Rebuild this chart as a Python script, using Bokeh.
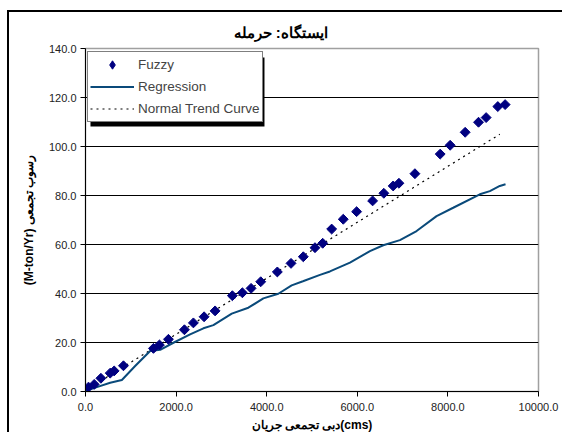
from bokeh.plotting import figure
from bokeh.models import (ColumnDataSource, Legend, LegendItem, Title, FixedTicker,
                          PrintfTickFormatter, BoxAnnotation, Range1d)
from bokeh.embed import file_html
from bokeh.resources import INLINE

# ---- data ----
fuzzy_x = [66, 192, 340, 545, 633, 838, 1500, 1632, 1831, 2184, 2382, 2618, 2861,
           3242, 3463, 3655, 3868, 4235, 4537, 4808, 5066, 5236, 5434, 5690, 5985,
           6338, 6586, 6792, 6919, 7272, 7830, 8050, 8381, 8676, 8844, 9102, 9263]
fuzzy_y = [1.8, 2.9, 5.4, 7.5, 8.4, 10.5, 17.6, 19.0, 21.3, 25.2, 28.0, 30.5, 32.9,
           39.1, 40.3, 42.1, 44.8, 48.8, 52.3, 55.0, 58.7, 60.5, 66.3, 70.3, 73.4,
           77.8, 80.9, 83.9, 85.0, 88.9, 96.9, 100.5, 105.8, 109.9, 111.8, 116.3, 117.1]

reg_x = [0, 250, 545, 803, 1096, 1427, 1648, 1941, 2309, 2603, 2823, 3229, 3595,
         3926, 4257, 4551, 4800, 5176, 5396, 5838, 6279, 6573, 6941, 7309, 7750,
         8117, 8705, 8926, 9146, 9272]
reg_y = [0.2, 1.8, 3.6, 4.7, 10.4, 16.5, 17.0, 19.9, 23.3, 25.8, 27.1, 31.8, 34.2,
         38.0, 39.9, 43.3, 45.0, 47.6, 49.0, 52.6, 57.3, 59.7, 61.8, 65.5, 71.6,
         75.0, 80.5, 81.8, 83.9, 84.6]

trend_x = [0, 9146]
trend_y = [0.5, 105.0]

x_ticks = [0, 2000, 4000, 6000, 8000, 10000]
y_ticks = [0, 20, 40, 60, 80, 100, 120, 140]

title_text = "ایستگاه: حرمله"
x_label = "دبی تجمعی جریان(cms)"
y_label = "(M-ton/Yr) رسوب تجمعی"
series_names = ["Fuzzy", "Regression", "Normal Trend Curve"]

FONT = "Liberation Sans"

p = figure(width=555, height=422, output_backend="svg", toolbar_location=None,
           x_range=Range1d(0, 10000), y_range=Range1d(0, 140),
           min_border_left=76, min_border_right=26, min_border_top=36,
           min_border_bottom=43)
# outer chart border (left and top edges visible in the reference)
p.styles = {"margin-left": "7px", "margin-top": "10px",
            "border-left": "2px solid black", "border-top": "2px solid black"}

p.title = Title(text=title_text, align="left", offset=148, standoff=12,
                vertical_align="top",
                text_font=FONT, text_font_size="15px", text_font_style="bold",
                text_color="black")

p.outline_line_color = "#A0A0A0"
p.outline_line_width = 1.5
p.background_fill_color = "white"
p.border_fill_color = "white"

p.xgrid.visible = False
p.ygrid.ticker = FixedTicker(ticks=y_ticks)
p.ygrid.grid_line_color = "black"
p.ygrid.grid_line_width = 1

for ax in (p.xaxis[0], p.yaxis[0]):
    ax.axis_line_color = "black"
    ax.axis_line_width = 1
    ax.major_tick_line_color = "black"
    ax.major_tick_in = 0
    ax.major_tick_out = 5
    ax.minor_tick_line_color = None
    ax.major_label_text_font = FONT
    ax.major_label_text_font_size = "11px"
    ax.major_label_text_color = "#222222"
    ax.axis_label_text_font = FONT
    ax.axis_label_text_font_size = "12px"
    ax.axis_label_text_font_style = "bold"
    ax.axis_label_text_color = "black"
    ax.formatter = PrintfTickFormatter(format="%.1f")

p.xaxis[0].ticker = FixedTicker(ticks=x_ticks)
p.yaxis[0].ticker = FixedTicker(ticks=y_ticks)
p.xaxis[0].axis_label = x_label
p.yaxis[0].axis_label = y_label
p.xaxis[0].major_label_standoff = 6
p.yaxis[0].major_label_standoff = 4
p.xaxis[0].axis_label_standoff = 4
p.yaxis[0].axis_label_standoff = 10

src_f = ColumnDataSource(dict(x=fuzzy_x, y=fuzzy_y))
src_r = ColumnDataSource(dict(x=reg_x, y=reg_y))
src_t = ColumnDataSource(dict(x=trend_x, y=trend_y))

r_trend = p.line("x", "y", source=src_t, line_color="black", line_width=1.2,
                 line_dash="2 4")
r_reg = p.line("x", "y", source=src_r, line_color="#0A4A7A", line_width=2)
r_fuzzy = p.scatter("x", "y", source=src_f, marker="square", size=7,
                    angle=45, angle_units="deg",
                    fill_color="#000080", line_color="#000080")
# legend swatch for the Fuzzy series (the legend ignores marker rotation)
r_fuzzy_key = p.scatter("x", "y", source=src_f, marker="diamond", size=10,
                        fill_color="#000080", line_color="#000080", visible=False)

# legend shadow
shadow = BoxAnnotation(left=110, right=3951, top=136.3, bottom=108.2,
                       fill_color="black", fill_alpha=1.0, line_color=None)
p.add_layout(shadow)

legend = Legend(items=[LegendItem(label=series_names[0], renderers=[r_fuzzy_key]),
                       LegendItem(label=series_names[1], renderers=[r_reg]),
                       LegendItem(label=series_names[2], renderers=[r_trend])],
                location=(2, 269), border_line_color="black", border_line_width=1,
                background_fill_color="white", background_fill_alpha=1.0,
                inactive_fill_alpha=0.0,
                label_text_font=FONT, label_text_font_size="13.5px",
                label_height=21, glyph_height=21, glyph_width=44, spacing=1,
                padding=2, margin=0, label_standoff=4)
p.add_layout(legend, "center")

open("out.html", "w").write(file_html(p, INLINE))
